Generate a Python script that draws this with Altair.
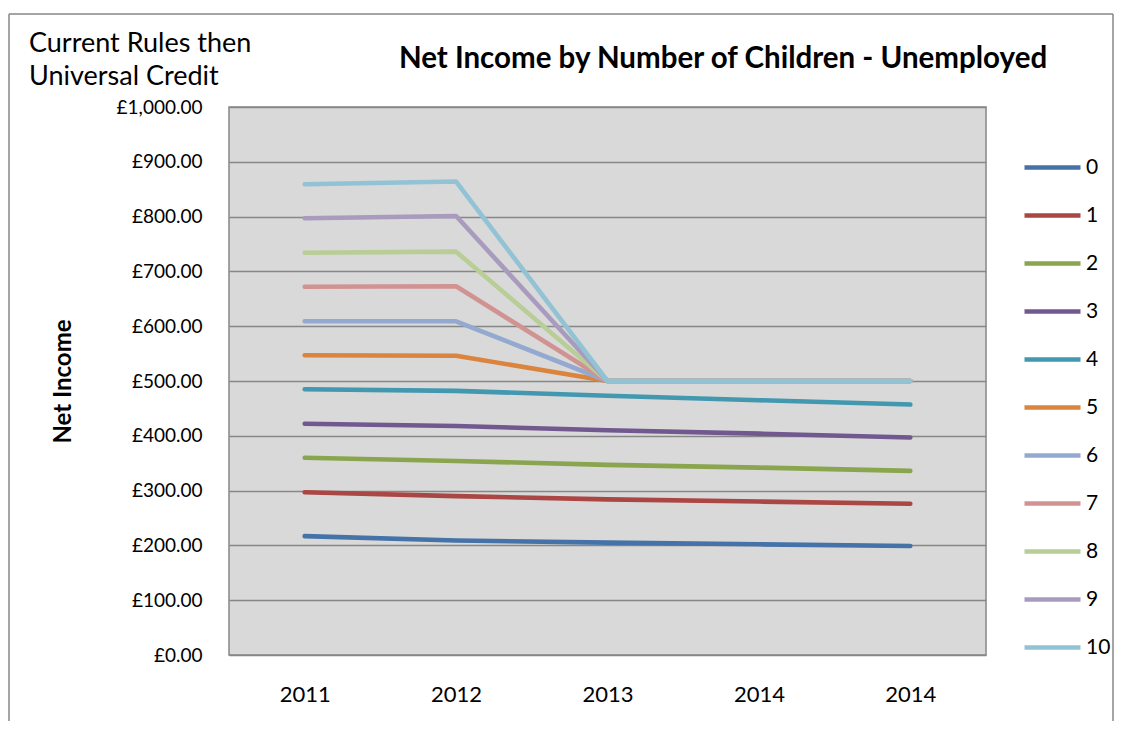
import altair as alt
import pandas as pd

years = ["2011", "2012", "2013", "2014", "2014"]
children = ["0", "1", "2", "3", "4", "5", "6", "7", "8", "9", "10"]
s0 = [217, 209, 205, 202, 199]
s1 = [297, 290, 284, 280, 276]
s2 = [360, 354, 347, 342, 336]
s3 = [422, 418, 410, 404, 397]
s4 = [485, 482, 473, 465, 457]
s5 = [547, 546, 500, 500, 500]
s6 = [609, 609, 500, 500, 500]
s7 = [672, 673, 500, 500, 500]
s8 = [734, 736, 500, 500, 500]
s9 = [797, 801, 500, 500, 500]
s10 = [859, 864, 500, 500, 500]
series = [s0, s1, s2, s3, s4, s5, s6, s7, s8, s9, s10]
colors = ["#4572A7", "#AA4643", "#89A54E", "#71588F", "#4198AF", "#DB843D",
          "#93A9CF", "#D19392", "#B9CD96", "#A99BBD", "#92C3D5"]
title_text = "Net Income by Number of Children - Unemployed"
note_lines = ["Current Rules then", "Universal Credit"]

rows = []
for c, vals in zip(children, series):
    for i, v in enumerate(vals):
        rows.append({"idx": i, "children": c, "value": v})
df = pd.DataFrame(rows)

FONT = "Lato"
label_expr = "[" + ",".join("'%s'" % y for y in years) + "][datum.value]"

lines = alt.Chart(df).mark_line(strokeWidth=4.6, strokeCap="round", strokeJoin="round").encode(
    x=alt.X("idx:O", scale=alt.Scale(paddingInner=1, paddingOuter=0.5),
            axis=alt.Axis(title=None, labelExpr=label_expr, labelAngle=0, labelFontSize=22,
                          labelPadding=29, ticks=False, domain=False, grid=False,
                          labelFont=FONT, labelColor="#000000")),
    y=alt.Y("value:Q", scale=alt.Scale(domain=[0, 1000], nice=False),
            axis=alt.Axis(title="Net Income", values=list(range(0, 1001, 100)),
                          format="$,.2f", labelFontSize=19, labelPadding=27,
                          labelFont=FONT, labelColor="#000000", ticks=False, domain=False,
                          gridColor="#878787", gridWidth=1.6,
                          titleFont=FONT, titleFontSize=24, titleFontWeight="bold",
                          titleAngle=-90, titleX=-166, titleY=274, titleAlign="center",
                          titleBaseline="middle", titleColor="#000000")),
    color=alt.Color("children:N", sort=children,
                    scale=alt.Scale(domain=children, range=colors),
                    legend=alt.Legend(title=None, orient="none", legendX=793, legendY=30,
                                      symbolType="stroke", symbolSize=3136, symbolStrokeWidth=4.6,
                                      labelFontSize=21, labelFont=FONT, labelColor="#000000",
                                      labelOffset=3, rowPadding=7, padding=0)),
    order="idx:O",
)

note = alt.Chart(pd.DataFrame({"t": [note_lines]})).mark_text(
    align="left", baseline="middle", fontSize=27, font=FONT, lineHeight=33, color="#000000"
).encode(text="t", x=alt.value(-200), y=alt.value(-63))

title = alt.Chart(pd.DataFrame({"t": [title_text]})).mark_text(
    align="center", baseline="middle", fontSize=29.5, font=FONT, fontWeight="bold", color="#000000"
).encode(text="t", x=alt.value(494), y=alt.value(-48))

border = pd.DataFrame({"a": [0]})
left = alt.Chart(border).mark_rule(color="#878787", strokeWidth=1.5).encode(
    x=alt.value(-220), y=alt.value(-93), y2=alt.value(614))
right = alt.Chart(border).mark_rule(color="#878787", strokeWidth=1.5).encode(
    x=alt.value(884), y=alt.value(-93), y2=alt.value(614))
top = alt.Chart(border).mark_rule(color="#878787", strokeWidth=1.5).encode(
    x=alt.value(-220), x2=alt.value(884), y=alt.value(-93))
spacer = alt.Chart(border).mark_rule(color="#ffffff", strokeWidth=1).encode(
    x=alt.value(-200), x2=alt.value(800), y=alt.value(-98))

chart = alt.layer(lines, note, title, spacer, left, right, top).properties(
    width=757, height=548,
).configure(padding=0, locale={"number": {"decimal": ".", "thousands": ",",
                                          "grouping": [3], "currency": ["£", ""]}}
).configure_view(fill="#D9D9D9", stroke="#878787", strokeWidth=1.5)

chart.save("out.html", embed_options={"renderer": "svg", "actions": False})
